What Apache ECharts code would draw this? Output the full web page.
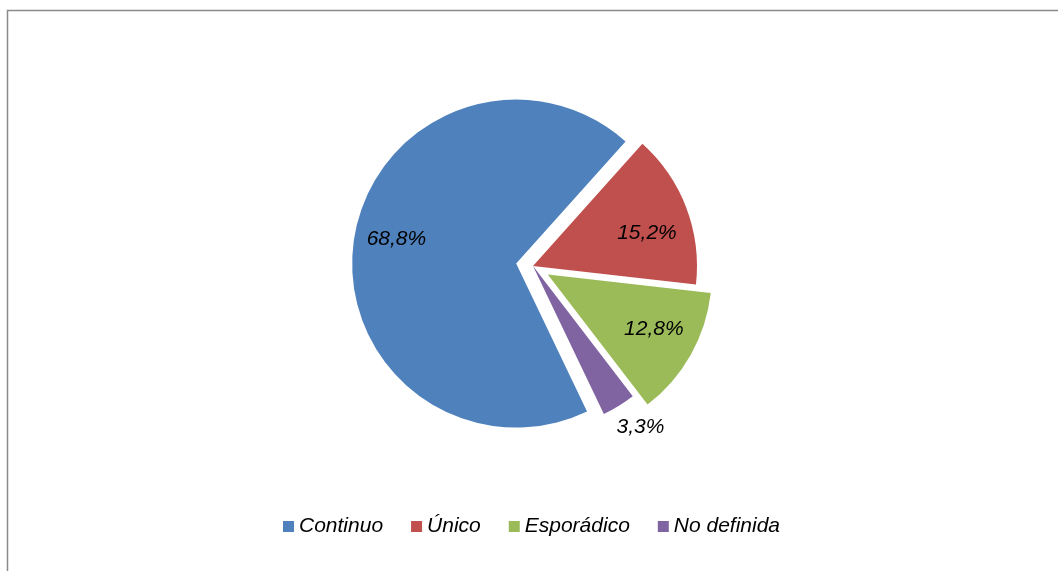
<!DOCTYPE html>
<html>
<head>
<meta charset="utf-8">
<script src="https://cdn.jsdelivr.net/npm/echarts@6/dist/echarts.min.js"></script>
<style>html,body{margin:0;padding:0;background:#fff}#c{width:1058px;height:571px}</style>
</head>
<body>
<div id="c"></div>
<script>
const categories = ['Continuo', 'Único', 'Esporádico', 'No definida'];
const values = [68.8, 15.2, 12.8, 3.3];
const colors = ['#4F81BD', '#C0504D', '#9BBB59', '#8064A2'];
const exploded = ['Continuo', 'Esporádico'];
const outsideLabels = ['No definida'];
// small label nudges (px) to mimic the original label placement
const labelNudge = {'Continuo': [2, -7], 'Único': [-1, 11], 'Esporádico': [-1, -6], 'No definida': [5, -6]};

const chart = echarts.init(document.getElementById('c'), null, {renderer: 'canvas'});
const FONT = 'Liberation Sans, Arial, sans-serif';
const center = [533, 266];
const R = 164;
const fmt = p => p.value.toFixed(1).replace('.', ',') + '%';
const nudge = p => {
  const n = labelNudge[categories[p.dataIndex]] || [0, 0];
  return {dx: n[0], dy: n[1]};
};

function mkData(labelFilter) {
  return categories.map((c, i) => ({
    name: c,
    value: values[i],
    selected: exploded.includes(c),
    label: {show: labelFilter(c)}
  }));
}

const common = {
  type: 'pie',
  center: center,
  startAngle: -64.4,
  clockwise: true,
  selectedMode: 'multiple',
  selectedOffset: 17,
  avoidLabelOverlap: false,
  animation: false,
  labelLine: {show: false}
};

const labelStyle = {position: 'inside', formatter: fmt, fontFamily: FONT, fontStyle: 'italic', fontSize: 21, color: '#000'};

const option = {
  animation: false,
  color: colors,
  graphic: [{
    type: 'rect',
    shape: {x: 7.5, y: 10.5, width: 1100, height: 700},
    style: {fill: 'none', stroke: '#8a8a8a', lineWidth: 1.5},
    silent: true
  }],
  legend: {
    data: categories,
    left: 278,
    top: 511,
    icon: 'rect',
    itemWidth: 11,
    itemHeight: 11,
    itemGap: 28,
    selectedMode: false,
    textStyle: {fontFamily: FONT, fontStyle: 'italic', fontSize: 21, color: '#000'}
  },
  series: [
    Object.assign({}, common, {
      name: 'main',
      radius: [0, R],
      itemStyle: {borderWidth: 0},
      label: {show: false},
      emphasis: {disabled: true},
      data: categories.map((c, i) => ({name: c, value: values[i], selected: exploded.includes(c)}))
    }),
    Object.assign({}, common, {
      name: 'labelsIn',
      radius: [78, 162],
      silent: true,
      itemStyle: {color: 'rgba(0,0,0,0)', borderWidth: 0},
      emphasis: {disabled: true},
      label: labelStyle,
      labelLayout: nudge,
      data: mkData(c => !outsideLabels.includes(c))
    }),
    Object.assign({}, common, {
      name: 'labelsOut',
      radius: [170, 216],
      silent: true,
      itemStyle: {color: 'rgba(0,0,0,0)', borderWidth: 0},
      emphasis: {disabled: true},
      label: labelStyle,
      labelLayout: nudge,
      data: mkData(c => outsideLabels.includes(c))
    })
  ]
};
chart.setOption(option);
</script>
</body>
</html>
